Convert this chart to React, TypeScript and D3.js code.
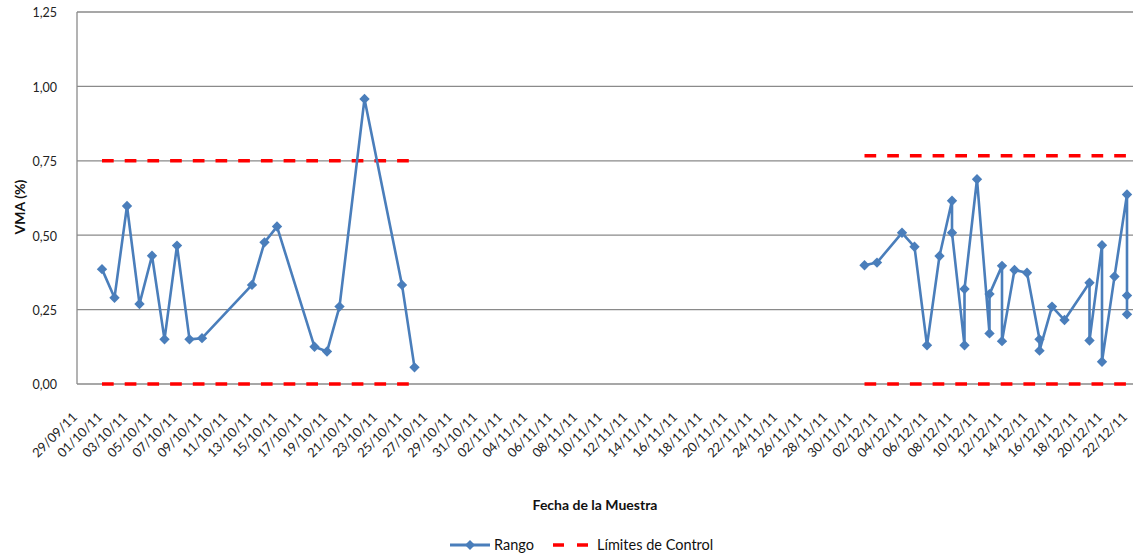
import React from "react";
import * as d3 from "d3";

// ---- Data ----
const ejeFechas: string[] = [
  "29/09/11","01/10/11","03/10/11","05/10/11","07/10/11","09/10/11","11/10/11","13/10/11","15/10/11","17/10/11","19/10/11","21/10/11","23/10/11","25/10/11","27/10/11","29/10/11","31/10/11","02/11/11","04/11/11","06/11/11","08/11/11","10/11/11","12/11/11","14/11/11","16/11/11","18/11/11","20/11/11","22/11/11","24/11/11","26/11/11","28/11/11","30/11/11","02/12/11","04/12/11","06/12/11","08/12/11","10/12/11","12/12/11","14/12/11","16/12/11","18/12/11","20/12/11","22/12/11",
];
const yTicks: number[] = [0, 0.25, 0.5, 0.75, 1.0, 1.25];

// Rango series, period 1 (October)
const rangoFechas1: string[] = [
  "01/10/11","02/10/11","03/10/11","04/10/11","05/10/11","06/10/11","07/10/11","08/10/11","09/10/11",
  "13/10/11","14/10/11","15/10/11","18/10/11","19/10/11","20/10/11","22/10/11","25/10/11","26/10/11",
];
const rangoValores1: number[] = [
  0.386, 0.29, 0.598, 0.269, 0.431, 0.15, 0.465, 0.15, 0.154,
  0.333, 0.476, 0.529, 0.125, 0.109, 0.26, 0.958, 0.333, 0.056,
];
// Rango series, period 2 (December)
const rangoFechas2: string[] = [
  "01/12/11","02/12/11","04/12/11","05/12/11","06/12/11","07/12/11","08/12/11","08/12/11","09/12/11","09/12/11",
  "10/12/11","11/12/11","11/12/11","12/12/11","12/12/11","13/12/11","14/12/11","15/12/11","15/12/11","16/12/11",
  "17/12/11","19/12/11","19/12/11","20/12/11","20/12/11","21/12/11","22/12/11","22/12/11","22/12/11",
];
const rangoValores2: number[] = [
  0.399, 0.408, 0.508, 0.461, 0.13, 0.43, 0.616, 0.508, 0.13, 0.319,
  0.688, 0.17, 0.302, 0.397, 0.144, 0.383, 0.374, 0.15, 0.112, 0.26,
  0.215, 0.34, 0.146, 0.466, 0.075, 0.361, 0.637, 0.297, 0.234,
];

// Límites de Control per period
const limiteInicio: string[] = ["01/10/11", "01/12/11"];
const limiteFin: string[] = ["26/10/11", "22/12/11"];
const limiteSuperior: number[] = [0.75, 0.767];
const limiteInferior: number[] = [0, 0];

// ---- Layout ----
const W = 1133;
const H = 557;
const plotLeft = 77;
const plotRight = 1133;
const plotTop = 12;
const plotBottom = 384;
const FONT = "Lato, 'Open Sans', sans-serif";
const BLUE = "#4a7ebb";
const RED = "#ff0000";
const GRID = "#8a8a8a";

const parse = d3.timeParse("%d/%m/%y");

export default function App() {
  const x = d3
    .scaleTime()
    .domain([parse(ejeFechas[0])!, parse(ejeFechas[ejeFechas.length - 1])!])
    .range([77, 1127]);
  const y = d3.scaleLinear().domain([0, 1.25]).range([plotBottom, plotTop]);

  type P = { d: Date; v: number };
  const s1: P[] = rangoFechas1.map((f, i) => ({ d: parse(f)!, v: rangoValores1[i] }));
  const s2: P[] = rangoFechas2.map((f, i) => ({ d: parse(f)!, v: rangoValores2[i] }));
  const line = d3
    .line<P>()
    .x((p) => x(p.d))
    .y((p) => y(p.v));

  const diamond = (cx: number, cy: number, r = 5.2) =>
    `M${cx},${cy - r}L${cx + r},${cy}L${cx},${cy + r}L${cx - r},${cy}Z`;

  const limits: { x1: number; x2: number; y: number }[] = [];
  limiteInicio.forEach((s, i) => {
    const x1 = x(parse(s)!);
    const x2 = x(parse(limiteFin[i])!);
    limits.push({ x1, x2, y: y(limiteSuperior[i]) });
    limits.push({ x1, x2, y: y(limiteInferior[i]) });
  });

  return (
    <svg
      width={W}
      height={H}
      style={{ position: "absolute", left: 0, top: 0, background: "#fff" }}
      fontFamily={FONT}
    >
      {/* gridlines */}
      {yTicks.map((t) => (
        <line
          key={t}
          x1={plotLeft}
          x2={plotRight}
          y1={y(t)}
          y2={y(t)}
          stroke={GRID}
          strokeWidth={t === 0 ? 1.6 : 1.3}
        />
      ))}
      {/* y axis line */}
      <line x1={plotLeft} x2={plotLeft} y1={plotTop} y2={plotBottom} stroke={GRID} strokeWidth={1.3} />
      {/* y tick labels */}
      {yTicks.map((t) => (
        <text
          key={"yl" + t}
          x={57}
          y={y(t) + 1}
          dy="0.35em"
          textAnchor="end"
          fontSize={12.5}
          fill="#222"
        >
          {d3.format(".2f")(t).replace(".", ",")}
        </text>
      ))}
      {/* x tick labels */}
      {ejeFechas.map((f) => {
        const px = x(parse(f)!);
        return (
          <text
            key={f}
            transform={`translate(${px + 1},${418}) rotate(-45)`}
            textAnchor="end"
            fontSize={13}
            fill="#222"
          >
            {f}
          </text>
        );
      })}
      {/* control limits */}
      {limits.map((l, i) => (
        <line
          key={"lim" + i}
          x1={l.x1}
          x2={l.x2}
          y1={l.y}
          y2={l.y}
          stroke={RED}
          strokeWidth={3.6}
          strokeDasharray="11.7 11"
        />
      ))}
      {/* Rango series */}
      {[s1, s2].map((s, i) => (
        <g key={"s" + i}>
          <path d={line(s) || ""} fill="none" stroke={BLUE} strokeWidth={2.6} strokeLinejoin="round" />
          {s.map((p, j) => (
            <path key={j} d={diamond(x(p.d), y(p.v))} fill={BLUE} />
          ))}
        </g>
      ))}
      {/* axis titles */}
      <text
        transform={`translate(${25},${207}) rotate(-90)`}
        textAnchor="middle"
        fontSize={14}
        fontWeight="bold"
        fill="#111"
      >
        VMA (%)
      </text>
      <text x={595} y={510} textAnchor="middle" fontSize={14} fontWeight="bold" fill="#111">
        Fecha de la Muestra
      </text>
      {/* legend */}
      <g>
        <line x1={450} x2={490} y1={545} y2={545} stroke={BLUE} strokeWidth={3} />
        <path d={diamond(470, 545, 5)} fill={BLUE} />
        <text x={494} y={550} fontSize={14.5} fill="#111">
          Rango
        </text>
        <line x1={553} x2={589} y1={545} y2={545} stroke={RED} strokeWidth={3.6} strokeDasharray="11 13" />
        <text x={597} y={550} fontSize={14.5} fill="#111">
          Límites de Control
        </text>
      </g>
    </svg>
  );
}
